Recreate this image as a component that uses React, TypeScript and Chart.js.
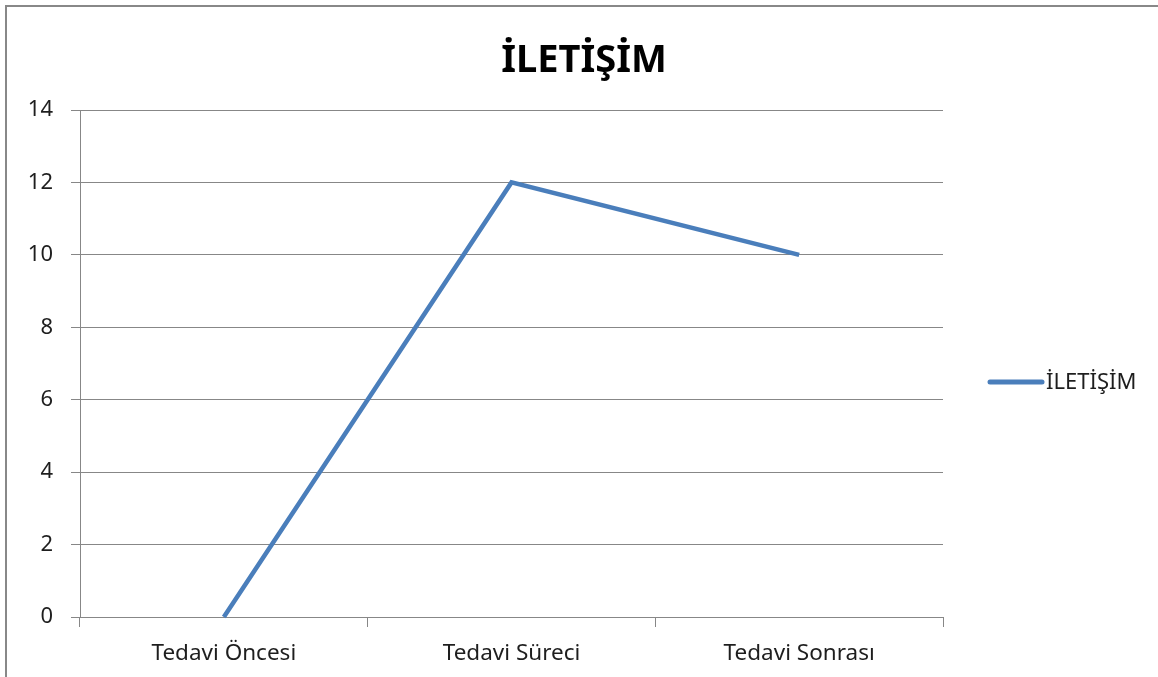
import React, { useEffect, useRef } from "react";
import { Chart, registerables } from "chart.js";

Chart.register(...registerables);

const categories = ["Tedavi Öncesi", "Tedavi Süreci", "Tedavi Sonrası"];
const seriesLabel = "İLETİŞİM";
const seriesValues = [0, 12, 10];
const chartTitle = "İLETİŞİM";
const yMin = 0;
const yMax = 14;
const yStep = 2;

const LINE_COLOR = "#4A7EBB";
const GRID_COLOR = "#878787";
const TEXT_COLOR = "#1e1e1e";
const FONT = "'Noto Sans', sans-serif";

const overlayPlugin = {
  id: "overlay",
  afterDraw(chart: any) {
    const ctx = chart.ctx as CanvasRenderingContext2D;
    ctx.save();
    // Title
    ctx.fillStyle = "#000";
    ctx.font = `bold 38px ${FONT}`;
    ctx.textAlign = "center";
    ctx.textBaseline = "alphabetic";
    ctx.fillText(chartTitle, 584, 72);
    // Legend
    const ds = chart.data.datasets[0];
    ctx.strokeStyle = ds.borderColor;
    ctx.lineWidth = 5;
    ctx.lineCap = "round";
    ctx.beginPath();
    ctx.moveTo(990, 382);
    ctx.lineTo(1042, 382);
    ctx.stroke();
    ctx.fillStyle = TEXT_COLOR;
    ctx.font = `22px ${FONT}`;
    ctx.textAlign = "left";
    ctx.textBaseline = "middle";
    ctx.fillText(ds.label, 1046, 383);
    ctx.restore();
  },
};

export default function App() {
  const ref = useRef<HTMLCanvasElement | null>(null);

  useEffect(() => {
    if (!ref.current) return;
    const chart = new Chart(ref.current, {
      type: "line",
      data: {
        labels: categories,
        datasets: [
          {
            label: seriesLabel,
            data: seriesValues,
            borderColor: LINE_COLOR,
            backgroundColor: LINE_COLOR,
            borderWidth: 4.5,
            pointRadius: 0,
            pointHoverRadius: 0,
            tension: 0,
            clip: false as any,
          },
        ],
      },
      options: {
        animation: false,
        responsive: false,
        maintainAspectRatio: false,
        layout: { padding: { left: 0, right: 215, top: 110, bottom: 0 } },
        plugins: {
          legend: { display: false },
          title: { display: false },
          tooltip: { enabled: false },
        },
        scales: {
          x: {
            type: "category",
            offset: true,
            grid: {
              offset: true,
              drawOnChartArea: false,
              drawTicks: true,
              tickLength: 10,
              color: GRID_COLOR,
            },
            border: { display: true, color: GRID_COLOR, width: 1 },
            ticks: {
              color: TEXT_COLOR,
              font: { family: FONT, size: 22.5 },
              padding: 13,
              maxRotation: 0,
              autoSkip: false,
            },
            afterFit(scale: any) {
              scale.height = 60;
            },
          },
          y: {
            min: yMin,
            max: yMax,
            ticks: {
              stepSize: yStep,
              color: TEXT_COLOR,
              font: { family: FONT, size: 22 },
              padding: 18,
            },
            grid: {
              color: GRID_COLOR,
              tickLength: 9,
              drawTicks: true,
            },
            border: { display: true, color: GRID_COLOR, width: 1 },
            afterFit(scale: any) {
              scale.width = 80;
            },
          },
        },
      },
      plugins: [overlayPlugin],
    });
    return () => chart.destroy();
  }, []);

  return (
    <div
      style={{
        position: "fixed",
        left: 0,
        top: 0,
        width: 1158,
        height: 677,
        overflow: "hidden",
        background: "#fff",
      }}
    >
      <canvas
        ref={ref}
        width={1158}
        height={677}
        style={{ position: "absolute", left: 0, top: 0, width: 1158, height: 677 }}
      />
      <div
        style={{
          position: "absolute",
          left: 5,
          top: 5,
          width: 1300,
          height: 800,
          border: "2px solid #888",
          boxSizing: "border-box",
          pointerEvents: "none",
        }}
      />
    </div>
  );
}
